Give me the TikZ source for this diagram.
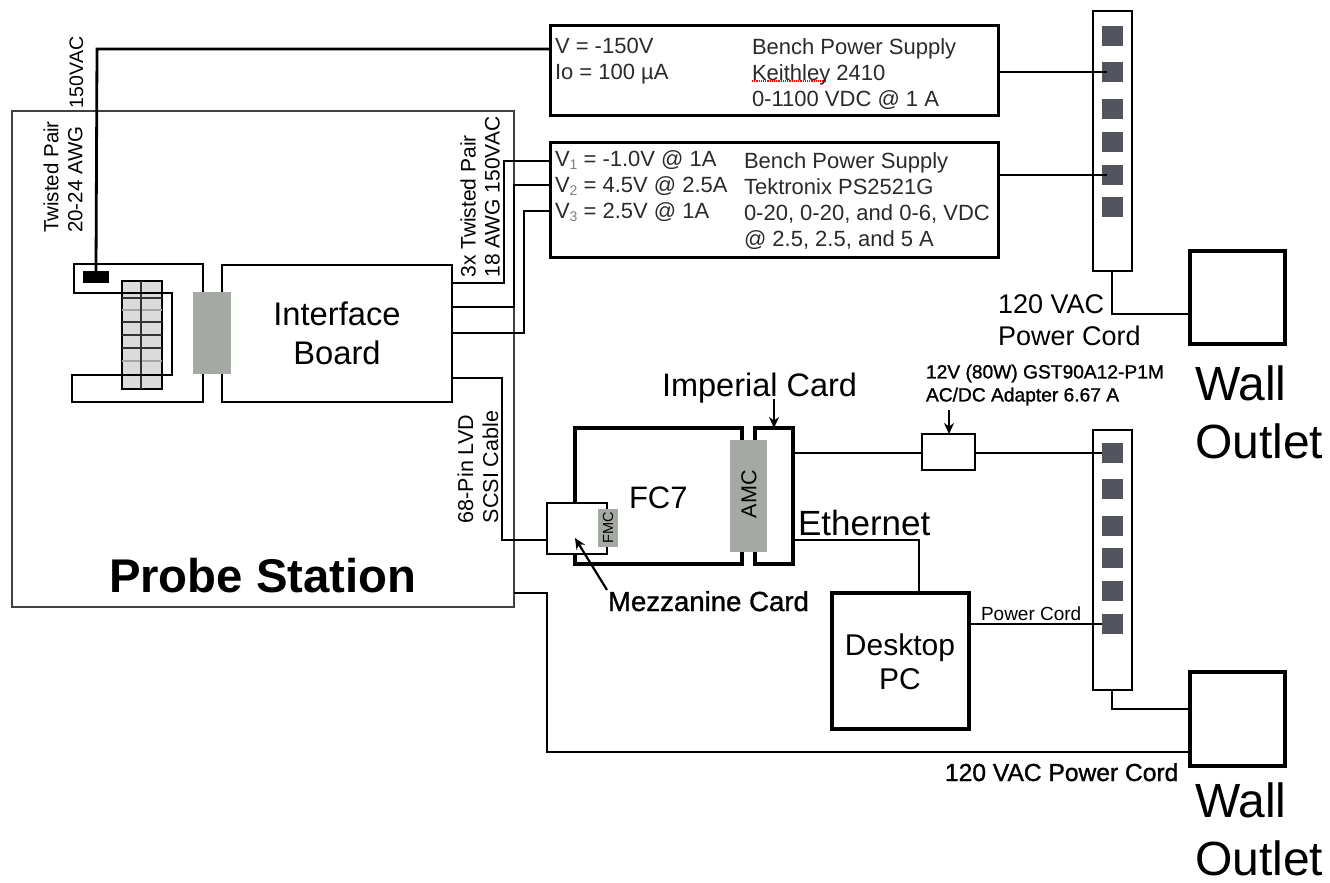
\documentclass[tikz,border=0pt]{standalone}
\usepackage{fontspec}
\setmainfont{Liberation Sans}
\newfontfamily\semi[FakeBold=1.2]{Liberation Sans}
\usetikzlibrary{arrows.meta}
\newcommand{\fsz}[1]{\fontsize{#1}{#1}\selectfont}
\newcommand{\vsub}[1]{\raisebox{-3pt}{\fontsize{14}{14}\selectfont\color{gray}#1}}
\definecolor{cgrey}{HTML}{A5A9A3}
\definecolor{csock}{HTML}{52555E}
\definecolor{ctxt}{HTML}{2A2A2A}
\tikzset{
  x=1pt,y=-1pt,
  every node/.style={inner sep=0pt,outer sep=0pt},
  thin box/.style={draw=black,line width=2.4pt,fill=white,anchor=north west},
  thick box/.style={draw=black,line width=3.8pt,anchor=north west},
  wire/.style={draw=black,line width=2.2pt,line join=miter},
  sock/.style={fill=csock,minimum width=21pt,minimum height=20pt,anchor=center},
  gblock/.style={fill=cgrey,anchor=north west},
  lbl/.style={text=black,anchor=base west},
  ptr/.style={draw=black,line width=2.2pt,-{Stealth[length=11pt,width=10pt]}},
}
\newcommand{\bx}[6]{\node[#2,minimum width=#5-#3,minimum height=#6-#4] (#1) at (#3,#4) {};}
\begin{document}
\begin{tikzpicture}
\useasboundingbox (0,0) rectangle (1330,883);
% Probe station
\bx{probe}{draw=black!75,line width=1.5pt,anchor=north west}{12}{111}{514}{607}
% bench supplies
\bx{psa}{thick box,line width=3pt}{550}{26}{998}{115}
\bx{psb}{thick box,line width=3pt}{550}{142}{998}{257}
% strips and outlets
\bx{stripa}{thin box,fill=none}{1093}{11}{1132}{271}
\bx{stripb}{thin box,fill=none}{1093}{430}{1132}{690}
\bx{wallb}{thick box}{1190}{251}{1285}{344}
\bx{walla}{thick box}{1190}{672}{1285}{766}
\foreach \n/\y in {1/36,2/72,3/109,4/142,5/175,6/207}{\node[sock] (sa\n) at (1112.5,\y) {};}
\foreach \n/\y in {1/453,2/489,3/526,4/558,5/591,6/624}{\node[sock] (sb\n) at (1112.5,\y) {};}
% sensor grid
\bx{grid}{draw=black,line width=2pt,fill=black!14,anchor=north west}{122}{281}{162}{389}
\foreach \y/\c in {298/black!80,310/black!35,322/black!80,335/black!80,348/black!80,361/black!35}{\draw[line width=1.8pt,draw=\c] (122,\y) -- (162,\y);}
\draw[line width=1.6pt,draw=black!80] (141,281) -- (141,389);
% flex outline
\draw[wire,line width=2.6pt] (203,292) -- (203,264) -- (74,264) -- (74,293) -- (172,293) -- (172,375) -- (72,375) -- (72,402) -- (203,402) -- (203,373);
% interface board
\bx{iface}{thin box}{222}{265}{452}{402}
\bx{conn}{gblock}{193}{292}{231}{374}
\bx{black}{fill=black,anchor=north west}{83}{271}{109}{283}
% FC7 group
\bx{fc}{thick box}{575}{428}{742}{564}
\bx{imp}{thick box}{755}{428}{793}{564}
\bx{amc}{gblock}{730}{440}{767}{552}
\bx{mez}{thin box}{547}{503}{607}{554}
\bx{fmc}{gblock}{598}{509}{618}{547}
\bx{adapt}{thin box}{922}{434}{975}{470}
\bx{pc}{thick box}{832}{593}{969}{729}
% coordinates for connector ends
\coordinate (psaw) at (550,49);
\coordinate (psbe) at (998,175);
\coordinate (v1) at (550,161);
\coordinate (v2) at (550,185);
\coordinate (v3) at (550,211);
\coordinate (i1) at (452,283);
\coordinate (i2) at (452,307);
\coordinate (i3) at (452,333);
\coordinate (i4) at (452,378);
\coordinate (mezw) at (547,540);
\coordinate (probeo) at (514,593);
\coordinate (walloa) at (1190,752);
\coordinate (wallob) at (1190,709);
\coordinate (walloc) at (1190,314);
\coordinate (impa) at (793,453);
\coordinate (impb) at (793,540);
\coordinate (pcw) at (969,624);
\coordinate (mezarr) at (607,590);
\coordinate (mezend) at (575,538);
\coordinate (imparr) at (774,399);
\coordinate (adarr) at (949,410);
\coordinate (redL) at (752,81);
\coordinate (redR) at (826,81);
% wires
\draw[wire,line width=2.8pt] (black.north) -- (97,49) -- (psaw);
\draw[wire,shorten >=6pt] (psa.east |- sa2) -- (sa2.center);
\draw[wire,shorten >=6pt] (psb.east |- sa5) -- (sa5.center);
\draw[wire] (i1) -- (504,283) -- (504,161) -- (v1);
\draw[wire] (i2) -- (514,307) -- (514,185) -- (v2);
\draw[wire] (i3) -- (524,333) -- (524,211) -- (v3);
\draw[wire] (i4) -- (502,378) -- (502,540) -- (mezw);
\draw[wire] (probeo) -- (547,593) -- (547,752) -- (walloa);
\draw[wire] (impa) -- (adapt.west |- impa);
\draw[wire] (adapt.east |- impa) -- (sb1.west);
\draw[wire] (impb) -- (919,540) -- (919,593);
\draw[wire] (pcw) -- (sb6.west);
\draw[wire] (1112,271) -- (1112,314) -- (walloc);
\draw[wire] (1112,690) -- (1112,709) -- (wallob);
\draw[ptr] (imparr) -- (774,428);
\draw[ptr] (adarr) -- (949,434);
\draw[ptr] (mezarr) -- (mezend);
\draw[red,densely dotted,line width=1.2pt] (redL) -- (redR);
% text
\node[anchor=west,align=left,text=ctxt,font=\fontsize{22}{26}\selectfont] (ta1) at (555,61) {V = -150V\\Io = 100 µA};
\node[anchor=west,align=left,text=ctxt,font=\fontsize{22}{26}\selectfont] (ta2) at (752,74) {Bench Power Supply\\Keithley 2410\\0-1100 VDC @ 1 A};
\node[anchor=west,align=left,text=ctxt,font=\fontsize{22}{26}\selectfont] (tb1) at (555,186) {V\vsub{1} = -1.0V @ 1A\\V\vsub{2} = 4.5V @ 2.5A\\V\vsub{3} = 2.5V @ 1A};
\node[anchor=west,align=left,text=ctxt,font=\fontsize{22}{26}\selectfont] (tb2) at (744,201) {Bench Power Supply\\Tektronix PS2521G\\0-20, 0-20, and 0-6, VDC\\@ 2.5, 2.5, and 5 A};
\node[rotate=90,lbl,font=\fsz{19.5}] (t150) at (83,108) {150VAC};
\node[rotate=90,anchor=center,align=left,font=\fontsize{20.5}{24}\selectfont] (ttp) at (63,177) {Twisted Pair\\20-24 AWG};
\node[rotate=90,anchor=center,align=left,font=\fontsize{21}{24}\selectfont] (t3x) at (480,197) {3x Twisted Pair\\18 AWG 150VAC};
\node[rotate=90,anchor=center,align=left,font=\fontsize{21.5}{25}\selectfont] (t68) at (478,467) {68-Pin LVD\\SCSI Cable};
\node[anchor=center,align=center,font=\fontsize{32.7}{39}\selectfont] (tif) at (337,333) {Interface\\Board};
\node[lbl,font=\fsz{47.3}\bfseries] (tps) at (109,592) {Probe Station};
\node[lbl,font=\fsz{31}] (tfc) at (629,508) {FC7};
\node[rotate=90,anchor=center,font=\fsz{21.6}] (tamc) at (749,494) {AMC};
\node[rotate=90,anchor=center,font=\fsz{14.6}] (tfmc) at (608,528) {FMC};
\node[lbl,font=\fsz{32.5}] (timp) at (662,396) {Imperial Card};
\node[anchor=west,align=left,font=\fontsize{19.2}{23}\semi\selectfont] (tad) at (926,385) {12V (80W) GST90A12-P1M\\AC/DC Adapter 6.67 A};
\node[lbl,font=\fsz{27.6}\semi] (tmz) at (608,611) {Mezzanine Card};
\node[lbl,font=\fsz{35}] (teth) at (798,535) {Ethernet};
\node[anchor=center,align=center,font=\fontsize{30}{34}\selectfont] (tpc) at (900,662) {Desktop\\PC};
\node[lbl,font=\fsz{19}] (tpw) at (981,620) {Power Cord};
\node[lbl,font=\fsz{24.6}\semi] (t120b) at (945,781) {120 VAC Power Cord};
\node[anchor=west,align=left,font=\fontsize{27}{32}\selectfont] (t120a) at (998,320) {120 VAC\\Power Cord};
\node[anchor=west,align=left,font=\fontsize{48}{58}\selectfont] (twa) at (1195,412) {Wall\\Outlet};
\node[anchor=west,align=left,font=\fontsize{48}{58}\selectfont] (twb) at (1195,829) {Wall\\Outlet};
\end{tikzpicture}
\end{document}
